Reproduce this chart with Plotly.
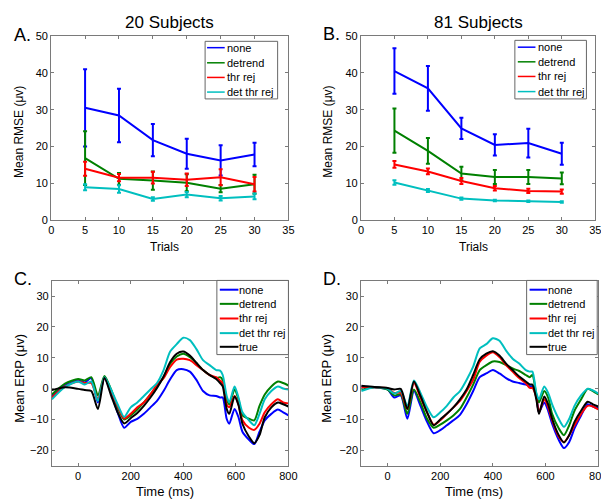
import plotly.graph_objects as go

# ---------------- data ----------------
trials = [5, 10, 15, 20, 25, 30]
method_names = ["none", "detrend", "thr rej", "det thr rej"]
erp_names = ["none", "detrend", "thr rej", "det thr rej", "true"]

# Panel A: 20 subjects, mean RMSE and error
rmse20_none = [30.5, 28.4, 21.7, 18.0, 16.2, 17.8]
rmse20_none_err = [10.5, 7.3, 4.4, 4.1, 4.1, 3.2]
rmse20_detrend = [16.8, 11.2, 10.7, 10.1, 8.5, 9.7]
rmse20_detrend_err = [7.3, 1.6, 2.5, 2.3, 1.0, 2.6]
rmse20_thr = [13.9, 11.5, 11.5, 10.9, 11.6, 9.7]
rmse20_thr_err = [1.9, 1.0, 1.6, 1.7, 2.2, 2.0]
rmse20_detthr = [8.9, 8.4, 5.7, 6.9, 5.9, 6.4]
rmse20_detthr_err = [0.8, 1.0, 0.5, 0.7, 0.6, 0.8]

# Panel B: 81 subjects
rmse81_none = [40.5, 35.8, 24.9, 20.4, 20.9, 18.0]
rmse81_none_err = [6.2, 6.1, 2.9, 2.9, 3.9, 3.0]
rmse81_detrend = [24.3, 18.8, 12.6, 11.7, 11.7, 11.3]
rmse81_detrend_err = [6.0, 3.5, 1.9, 1.9, 1.9, 1.6]
rmse81_thr = [15.1, 13.2, 10.6, 8.6, 7.9, 7.7]
rmse81_thr_err = [0.9, 0.8, 0.8, 0.6, 0.6, 0.6]
rmse81_detthr = [10.2, 8.0, 5.8, 5.3, 5.1, 4.9]
rmse81_detthr_err = [0.6, 0.4, 0.3, 0.2, 0.2, 0.2]

# ERP time axis (ms)
erp_time = [-100, -50, 0, 25, 50, 75, 100, 125, 150, 175, 200, 225, 250, 275,
            300, 325, 350, 375, 400, 425, 450, 475, 500, 525, 540, 550, 565,
            575, 595, 610, 625, 650, 670, 690, 710, 735, 760, 780, 800]

# Panel C: 20 subjects, mean ERP
erp20_none = [-2.4, 1.0, 2.6, 2.0, 3.4, -4.5, 3.4, -1.4, -7.7, -12.7, -10.8, -9.8, -8.2, -6.1,
              -4.0, -0.8, 3.0, 6.0, 6.3, 5.5, 2.8, -0.8, -2.2, -2.4, -2.9, -2.9, -9.8,
              -11.4, -6.6, -9.3, -14.0, -16.6, -18.0, -14.0, -10.3, -8.2, -6.8, -7.7, -8.7]
erp20_detrend = [-1.9, 1.6, 3.1, 2.6, 3.7, -2.2, 4.1, -0.3, -6.1, -10.0, -8.7, -6.8, -4.5, -1.9,
                 0.7, 3.7, 8.0, 10.4, 11.3, 10.2, 8.3, 6.0, 4.4, 3.4, 3.7, 2.8, -3.5,
                 -5.1, -0.3, -3.5, -8.7, -9.8, -10.3, -5.6, -1.9, 0.7, 2.3, 1.8, 1.0]
erp20_thr = [-2.9, 0.7, 2.3, 1.8, 1.8, -3.5, 3.4, -0.8, -5.6, -9.7, -8.2, -6.1, -4.5, -1.9,
             1.3, 3.4, 7.0, 9.4, 9.7, 9.2, 7.6, 6.0, 4.4, 3.7, 2.6, 1.8, -5.1,
             -6.1, -2.4, -5.1, -10.3, -12.7, -13.4, -11.4, -7.7, -5.1, -3.5, -4.5, -4.8]
erp20_detthr = [-3.5, 0.5, 2.3, 1.3, 2.3, -4.0, 3.7, -0.3, -5.1, -9.2, -6.1, -4.5, -2.4, -0.3,
                1.8, 6.0, 12.0, 14.4, 16.5, 15.7, 12.8, 9.2, 7.6, 6.0, 5.8, 4.4, -2.4,
                -4.5, 0.7, -2.9, -7.7, -10.3, -11.9, -8.2, -3.5, -0.8, 0.7, 0.0, -0.3]
erp20_true = [-0.5, 0.4, -0.1, -0.5, -0.8, -6.6, 3.4, -2.2, -7.7, -11.3, -9.6, -7.9, -5.6, -2.9,
              0.2, 3.9, 8.6, 11.3, 12.0, 10.7, 8.3, 6.0, 4.4, 3.1, 1.8, 0.7, -6.6,
              -8.2, -2.6, -5.4, -11.4, -15.6, -17.7, -15.1, -9.3, -6.1, -4.5, -5.1, -5.8]

# Panel D: 81 subjects, mean ERP
erp81_none = [0.7, 0.4, -0.3, -2.9, -2.2, -9.8, -0.8, -5.6, -10.8, -14.5, -13.5, -11.9, -10.3, -8.5,
              -5.1, -0.8, 3.7, 4.9, 6.0, 4.9, 3.4, 2.3, 1.8, 1.3, 0.7, 0.7, -2.4,
              -7.7, -4.5, -7.2, -11.4, -16.6, -19.3, -17.3, -12.9, -8.7, -5.1, -5.8, -6.4]
erp81_detrend = [-0.3, 0.4, -0.3, -2.2, -1.9, -8.2, -0.3, -4.5, -9.8, -12.7, -11.7, -10.3, -8.7, -6.6,
                 -2.9, 1.3, 6.0, 7.6, 8.8, 8.6, 7.6, 6.5, 5.7, 4.4, 3.7, 4.4, -1.9,
                 -4.5, -0.8, -2.9, -8.2, -12.9, -15.1, -11.9, -7.2, -3.5, -0.1, -0.8, -1.9]
erp81_thr = [0.4, 0.4, 0.1, -1.4, -1.4, -6.6, 1.8, -2.9, -7.7, -11.7, -10.3, -8.2, -6.1, -4.0,
             -0.8, 2.8, 8.7, 10.7, 11.8, 10.2, 7.6, 5.5, 3.4, 1.8, 0.2, 0.2, -2.9,
             -7.7, -3.5, -6.1, -10.3, -15.6, -17.3, -15.1, -11.9, -8.2, -5.6, -5.8, -6.8]
erp81_detthr = [-0.8, 0.4, -0.1, -1.6, -0.8, -5.6, 2.6, -1.4, -6.1, -9.3, -7.7, -5.6, -2.9, -0.8,
                2.8, 7.1, 13.0, 14.4, 16.3, 15.5, 12.3, 9.7, 8.1, 6.0, 5.5, 5.5, -1.4,
                -3.5, 0.7, -1.4, -5.1, -9.8, -12.4, -9.8, -5.6, -2.2, -0.1, -0.6, -1.6]
erp81_true = [0.9, 0.5, 0.2, -0.3, -0.1, -6.6, 2.3, -2.4, -7.7, -11.9, -10.0, -8.2, -6.1, -3.5,
              -0.3, 4.4, 9.5, 11.3, 12.1, 10.7, 8.1, 6.0, 3.9, 2.3, 1.3, 1.3, -3.5,
              -8.2, -2.6, -5.1, -9.8, -15.1, -17.5, -15.1, -10.8, -7.2, -4.3, -5.1, -5.8]

rmse_x_ticks = [0, 5, 10, 15, 20, 25, 30, 35]
rmse_y_ticks = [0, 10, 20, 30, 40, 50]
erp_x_ticks = [0, 200, 400, 600, 800]
erp_y_ticks = [-20, -10, 0, 10, 20, 30]

# ---------------- styling ----------------
W, H = 609, 499
FONT = "Liberation Sans, Arial, Helvetica, sans-serif"
colors = ["#0000FF", "#008000", "#FF0000", "#00BFBF", "#000000"]
AXC = "#7a7a7a"


def fx(p):
    return p / W


def fy(p):
    return 1 - p / H


fig = go.Figure()

rmse_panels = [
    ("x", "y", [rmse20_none, rmse20_detrend, rmse20_thr, rmse20_detthr],
     [rmse20_none_err, rmse20_detrend_err, rmse20_thr_err, rmse20_detthr_err]),
    ("x2", "y2", [rmse81_none, rmse81_detrend, rmse81_thr, rmse81_detthr],
     [rmse81_none_err, rmse81_detrend_err, rmse81_thr_err, rmse81_detthr_err]),
]
for xa, ya, ys, es in rmse_panels:
    for name, y, e, c in zip(method_names, ys, es, colors):
        fig.add_trace(go.Scatter(
            x=trials, y=y, name=name, mode="lines",
            line=dict(color=c, width=2),
            error_y=dict(type="data", array=e, visible=True, color=c, thickness=2, width=2),
            xaxis=xa, yaxis=ya, showlegend=False))

erp_panels = [
    ("x3", "y3", [erp20_none, erp20_detrend, erp20_thr, erp20_detthr, erp20_true]),
    ("x4", "y4", [erp81_none, erp81_detrend, erp81_thr, erp81_detthr, erp81_true]),
]
for xa, ya, ys in erp_panels:
    for name, y, c in zip(erp_names, ys, colors):
        fig.add_trace(go.Scatter(
            x=erp_time, y=y, name=name, mode="lines",
            line=dict(color=c, width=2, shape="spline", smoothing=0.7),
            xaxis=xa, yaxis=ya, showlegend=False))


def axis(domain, rng, tickvals, anchor):
    return dict(domain=domain, range=rng, tickvals=tickvals, anchor=anchor,
                showline=True, linecolor=AXC, linewidth=1, mirror="ticks",
                ticks="inside", ticklen=3, tickcolor=AXC, showgrid=False,
                zeroline=False, fixedrange=True,
                tickfont=dict(family=FONT, size=11, color="black"))


layout = dict(
    width=W, height=H, margin=dict(l=0, r=0, t=0, b=0),
    paper_bgcolor="white", plot_bgcolor="white", showlegend=False,
    xaxis=axis([fx(41), fx(283)], [0, 35], rmse_x_ticks, "y"),
    yaxis=axis([fy(211), fy(22.7)], [0, 50], rmse_y_ticks, "x"),
    xaxis2=axis([fx(357), fx(596)], [0, 35], rmse_x_ticks, "y2"),
    yaxis2=axis([fy(211), fy(22.7)], [0, 50], rmse_y_ticks, "x2"),
    xaxis3=axis([fx(41.7), fx(283)], [-100, 800], erp_x_ticks, "y3"),
    yaxis3=axis([fy(462.8), fy(273.2)], [-25, 35], erp_y_ticks, "x3"),
    xaxis4=axis([fx(357.3), fx(599)], [-100, 800], erp_x_ticks, "y4"),
    yaxis4=axis([fy(462.8), fy(273.2)], [-25, 35], erp_y_ticks, "x4"),
)
fig.update_layout(**layout)

annotations = []
shapes = []


def text(x, y, s, size, xanchor="center", yanchor="middle", angle=0):
    annotations.append(dict(x=fx(x), y=fy(y), xref="paper", yref="paper", text=s,
                            showarrow=False, xanchor=xanchor, yanchor=yanchor,
                            textangle=angle,
                            font=dict(family=FONT, size=size, color="black")))


# titles and panel letters
text(162, 9, "20 Subjects", 17)
text(476.5, 9, "81 Subjects", 17)
text(1, 21.5, "A.", 18, xanchor="left")
text(316, 21, "B.", 18, xanchor="left")
text(1, 272, "C.", 18, xanchor="left")
text(316, 272, "D.", 18, xanchor="left")

# axis titles
text(157, 238.5, "Trials", 12)
text(472, 238.5, "Trials", 12)
text(8, 121, "Mean RMSE (\u03bcv)", 12, angle=-90)
text(323, 121, "Mean RMSE (\u03bcv)", 12, angle=-90)
text(157, 489.5, "Time (ms)", 13)
text(472, 489.5, "Time (ms)", 13)
text(8, 373, "Mean ERP (\u03bcv)", 13, angle=-90)
text(321, 373, "Mean ERP (\u03bcv)", 13, angle=-90)


def legend(box, line_x0, line_x1, text_x, ys, names, lw):
    x0, y0, x1, y1 = box
    shapes.append(dict(type="rect", xref="paper", yref="paper",
                       x0=fx(x0), x1=fx(x1), y0=fy(y1), y1=fy(y0),
                       line=dict(color="#666666", width=1), fillcolor="white"))
    for yy, name, c in zip(ys, names, colors):
        shapes.append(dict(type="line", xref="paper", yref="paper",
                           x0=fx(line_x0), x1=fx(line_x1), y0=fy(yy), y1=fy(yy),
                           line=dict(color=c, width=lw)))
        text(text_x, yy, name, 11, xanchor="left")


legend((198, 28, 272, 87), 200, 218, 218.5, [34.5, 50, 65, 80], method_names, 1.5)
legend((514, 27, 587, 87), 517, 535, 535.5, [34, 49, 64, 79.5], method_names, 1.5)
legend((210, 273, 283, 349), 213, 232, 231, [282.5, 297, 312, 327, 341], erp_names, 2)
legend((526, 273, 598, 349), 529, 547, 546, [282.5, 297, 312, 327, 341], erp_names, 2)

fig.update_layout(annotations=annotations, shapes=shapes)
fig.write_html("out.html")
